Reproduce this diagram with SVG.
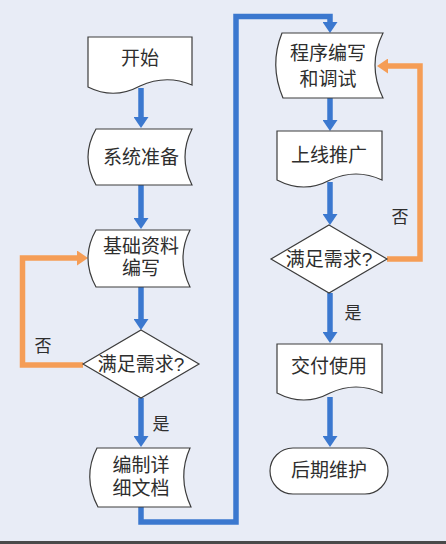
<svg xmlns="http://www.w3.org/2000/svg" width="446" height="544" viewBox="0 0 446 544">
<defs>
<style>
.shape{fill:#ffffff;stroke:#3c3c3c;stroke-width:1.2}
.t{font-family:"Liberation Sans","Noto Sans CJK SC",sans-serif;font-size:19px;fill:#2e2e2e;text-anchor:middle;dominant-baseline:central}
.lbl{font-family:"Liberation Sans","Noto Sans CJK SC",sans-serif;font-size:17px;fill:#2e2e2e;text-anchor:middle;dominant-baseline:central}
.blue{fill:none;stroke:#3b78cf;stroke-width:5.5}
.orange{fill:none;stroke:#f59d56;stroke-width:5.5}
</style>
<marker id="ab" markerUnits="userSpaceOnUse" markerWidth="11" markerHeight="15" refX="3" refY="7.5" orient="auto">
<path d="M0,0 L11,7.5 L0,15 Z" fill="#3b78cf"/>
</marker>
<marker id="ao" markerUnits="userSpaceOnUse" markerWidth="11" markerHeight="15" refX="3" refY="7.5" orient="auto">
<path d="M0,0 L11,7.5 L0,15 Z" fill="#f59d56"/>
</marker>
</defs>
<rect x="0" y="0" width="446" height="544" fill="#e8ecf6"/>
<rect x="0" y="541" width="446" height="3" fill="#4a4a4a"/>

<g id="connectors">
<path class="blue" d="M141,88 V120" marker-end="url(#ab)"/>
<path class="blue" d="M141,185 V221" marker-end="url(#ab)"/>
<path class="blue" d="M141,287 V322" marker-end="url(#ab)"/>
<path class="blue" d="M141,398 V439" marker-end="url(#ab)"/>
<path class="blue" d="M141,507 V522 H236 V16.5 H330 V25" marker-end="url(#ab)"/>
<path class="blue" d="M330,98 V123" marker-end="url(#ab)"/>
<path class="blue" d="M330,182 V217" marker-end="url(#ab)"/>
<path class="blue" d="M330,293 V335" marker-end="url(#ab)"/>
<path class="blue" d="M330,397 V439" marker-end="url(#ab)"/>
<path class="orange" d="M83,365 H22.5 V258 H80" marker-end="url(#ao)"/>
<path class="orange" d="M387,259 H420 V66 H385" marker-end="url(#ao)"/>
<text class="lbl" x="43" y="346">否</text>
<text class="lbl" x="161" y="424">是</text>
<text class="lbl" x="400" y="217">否</text>
<text class="lbl" x="353" y="313">是</text>
</g>

<g id="start">
<path class="shape" d="M88,37 H192 V85 Q166,74 140,86 Q114,100 88,87 Z"/>
<text class="t" x="140" y="58">开始</text>
</g>

<g id="prepare">
<path class="shape" d="M96,129 H192 Q178,157 192,185 H96 Q80,157 96,129 Z"/>
<text class="t" x="141" y="157">系统准备</text>
</g>

<g id="write-docs">
<path class="shape" d="M96,230 H190 Q176,258 190,287 H96 Q80,258 96,230 Z"/>
<text class="t" x="141" y="246">基础资料</text>
<text class="t" x="141" y="268">编写</text>
</g>

<g id="check1">
<path class="shape" d="M141,330 L199,364 L141,398 L83,364 Z"/>
<text class="t" x="141" y="364">满足需求?</text>
</g>

<g id="detail-docs">
<path class="shape" d="M97,448 H190 Q177,477 191,507 H98 Q82,477 97,448 Z"/>
<text class="t" x="141" y="465">编制详</text>
<text class="t" x="141" y="488">细文档</text>
</g>

<g id="coding">
<path class="shape" d="M282,33 H383 Q367,65 383,98 H283 Q269,65 282,33 Z"/>
<text class="t" x="328" y="53">程序编写</text>
<text class="t" x="328" y="79">和调试</text>
</g>

<g id="launch">
<path class="shape" d="M277,131 H382 V180 Q356,168 330,180 Q304,194 277,180 Z"/>
<text class="t" x="329" y="155">上线推广</text>
</g>

<g id="check2">
<path class="shape" d="M329,225 L387,259 L329,293 L271,259 Z"/>
<text class="t" x="329" y="259">满足需求?</text>
</g>

<g id="deliver">
<path class="shape" d="M277,344 H382 V393 Q356,381 330,393 Q304,407 277,393 Z"/>
<text class="t" x="329" y="366">交付使用</text>
</g>

<g id="maintain">
<rect class="shape" x="270" y="448" width="118" height="46" rx="23" ry="23"/>
<text class="t" x="329" y="470">后期维护</text>
</g>
</svg>
